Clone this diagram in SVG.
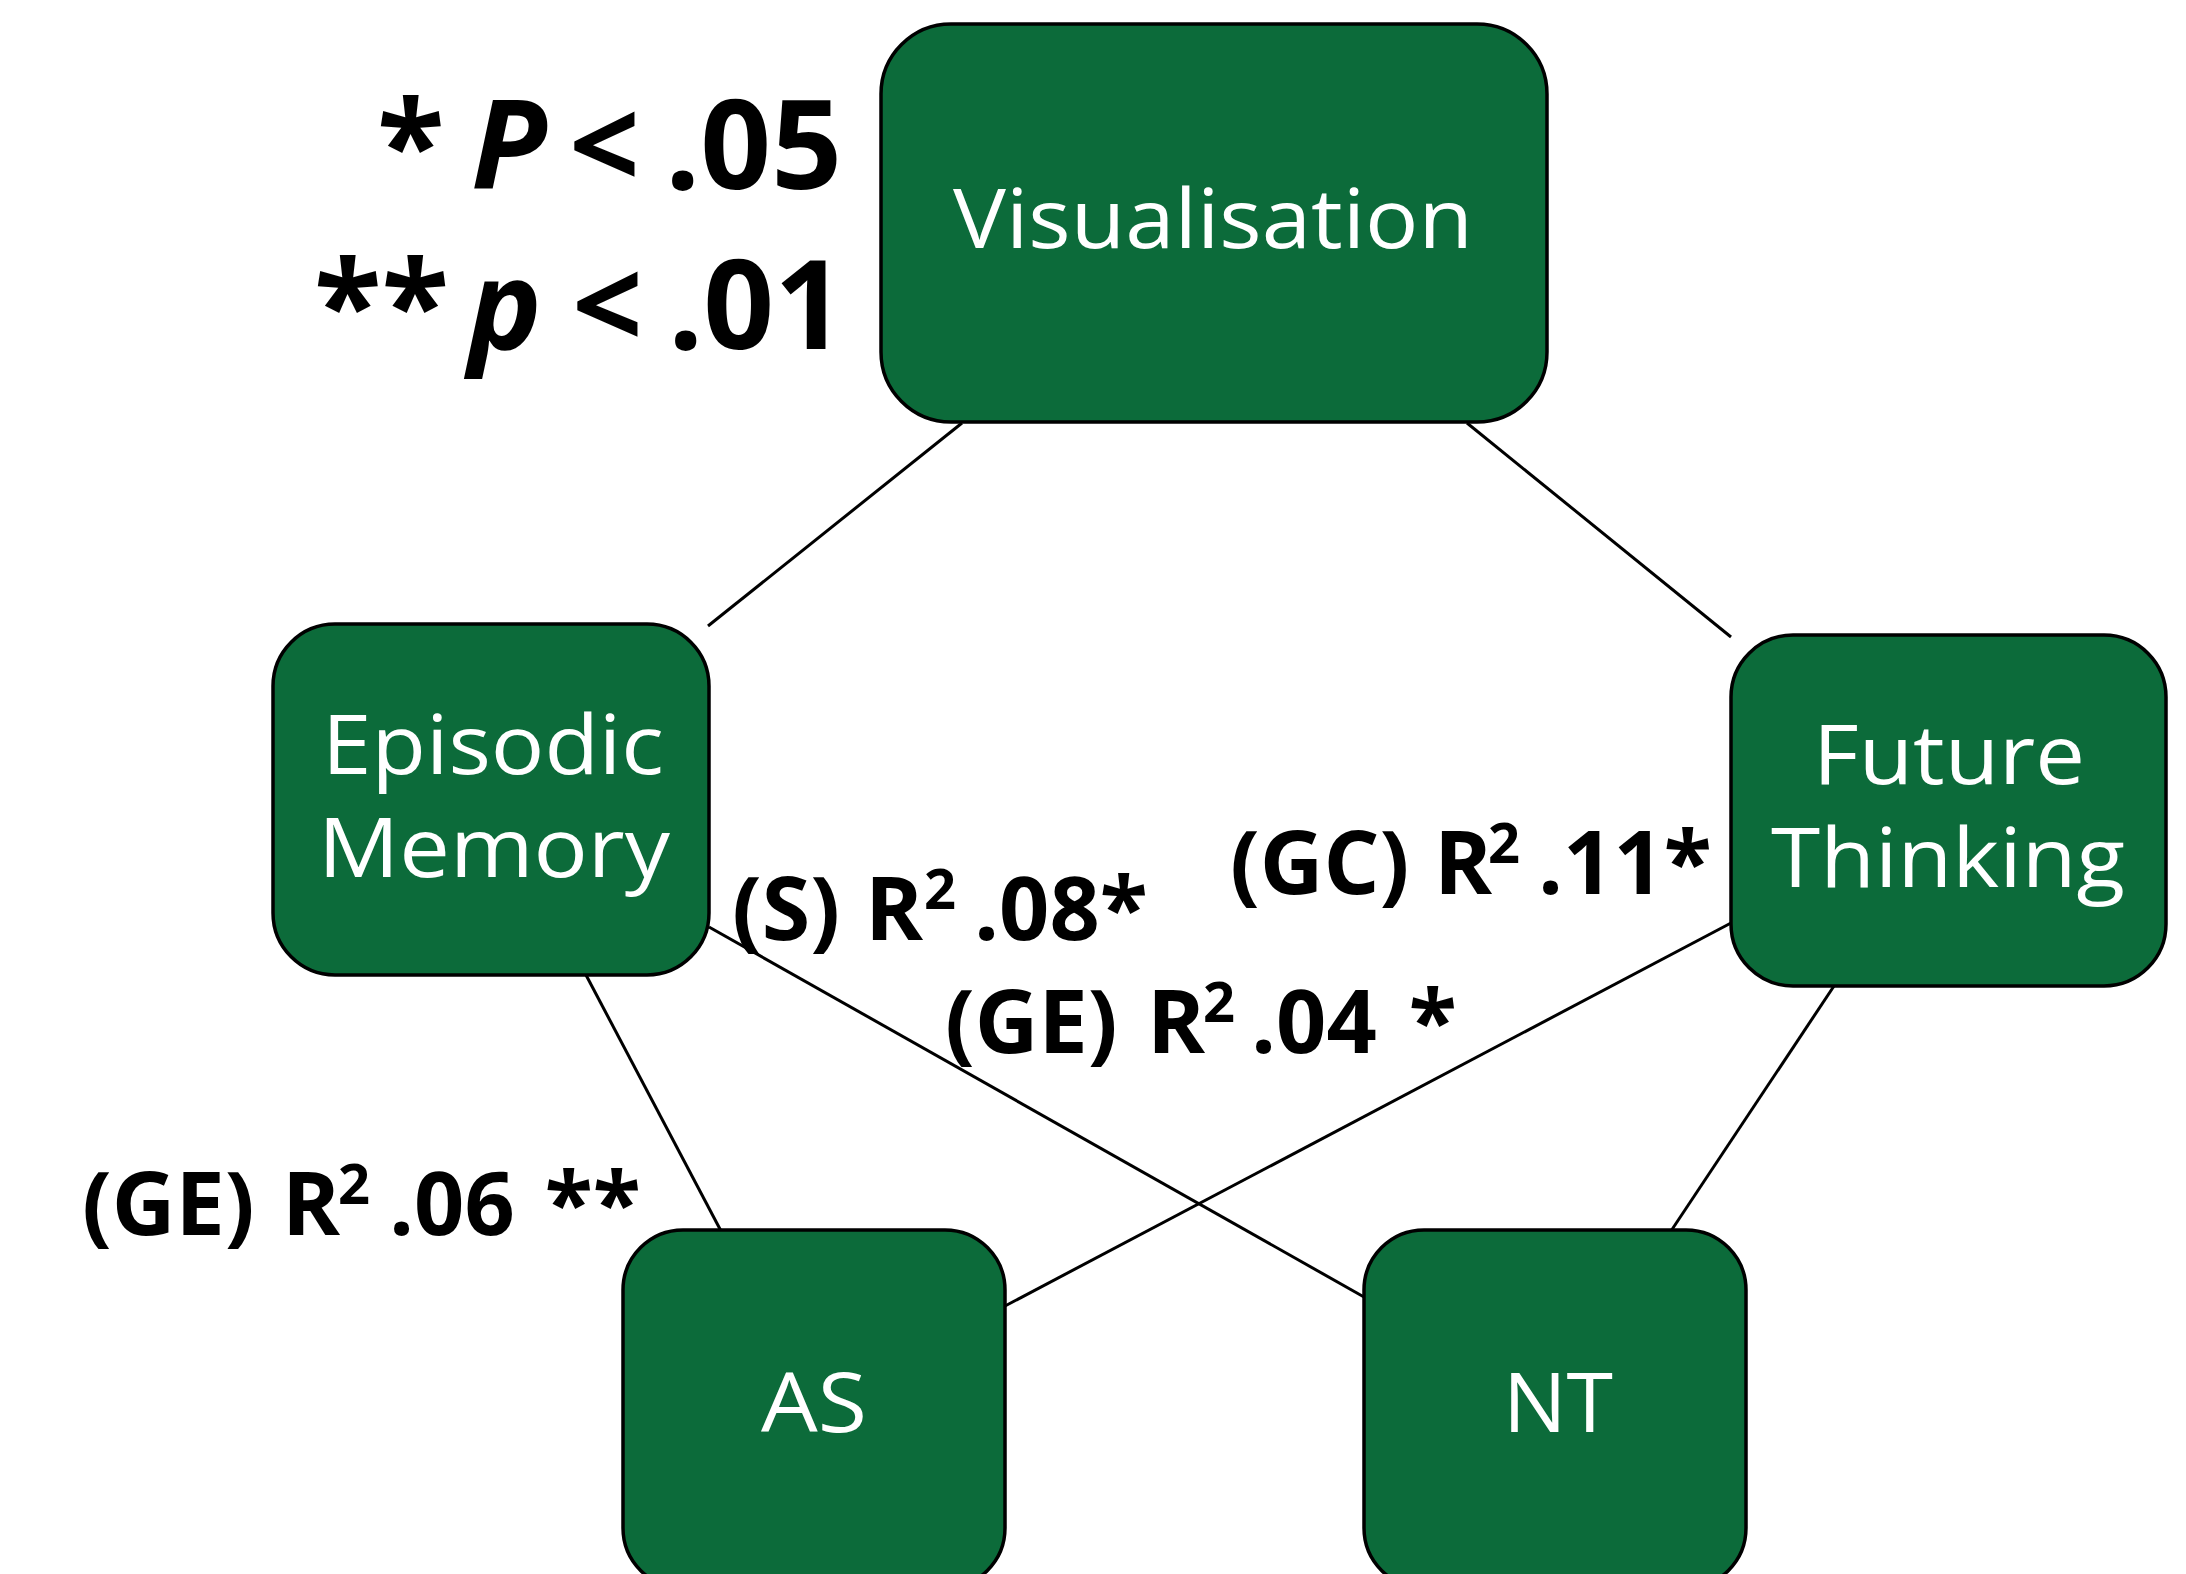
<svg xmlns="http://www.w3.org/2000/svg" width="2186" height="1574" viewBox="0 0 2186 1574">
  <style>
    .box { fill: #0c6b3a; stroke: #000; stroke-width: 3.5; }
    .name { font-family: "Open Sans", "Noto Sans", "Liberation Sans", sans-serif; font-size: 82px; fill: #fff; text-anchor: middle; }
    .edge { stroke: #000; stroke-width: 3; fill: none; }
    .lbl { font-family: "Open Sans", "Noto Sans", "Liberation Sans", sans-serif; font-weight: bold; font-size: 88px; fill: #000; }
    .sup { font-size: 56px; }
    .key { font-family: "Open Sans", "Noto Sans", "Liberation Sans", sans-serif; font-weight: bold; font-size: 124px; fill: #000; }
    .it { font-style: italic; }
  </style>
  <rect width="2186" height="1574" fill="#fff"/>

  <!-- connectors -->
  <g id="connectors">
    <line class="edge" x1="962" y1="423" x2="708" y2="626"/>
    <line class="edge" x1="1467" y1="423" x2="1731" y2="637"/>
    <line class="edge" x1="586" y1="975" x2="721" y2="1231"/>
    <line class="edge" x1="709" y1="927" x2="1364" y2="1297"/>
    <line class="edge" x1="1731" y1="923" x2="1005" y2="1306"/>
    <line class="edge" x1="1834" y1="986" x2="1671" y2="1231"/>
  </g>

  <!-- connector labels -->
  <g id="edge-labels">
    <text class="lbl" y="940"><tspan x="732">(S)</tspan><tspan x="865">R</tspan><tspan class="sup" x="924" y="909">2</tspan><tspan x="974" y="940">.08*</tspan></text>
    <text class="lbl" y="1053"><tspan x="945">(GE)</tspan><tspan x="1147">R</tspan><tspan class="sup" x="1203" y="1022">2</tspan><tspan x="1251" y="1053">.04</tspan><tspan x="1386"> *</tspan></text>
    <text class="lbl" y="894"><tspan x="1230">(GC)</tspan><tspan x="1434">R</tspan><tspan class="sup" x="1488" y="863">2</tspan><tspan x="1538" y="894">.11*</tspan></text>
    <text class="lbl" y="1235"><tspan x="82">(GE)</tspan><tspan x="282">R</tspan><tspan class="sup" x="338" y="1204">2</tspan><tspan x="389" y="1235">.06</tspan><tspan x="522"> **</tspan></text>
  </g>

  <!-- significance key -->
  <g id="key">
    <text class="key" y="189"><tspan x="377">*</tspan><tspan x="471" class="it">P</tspan><tspan x="569">&lt;</tspan><tspan x="665">.05</tspan></text>
    <text class="key" y="349"><tspan x="314">**</tspan><tspan x="468" class="it">p</tspan><tspan x="572">&lt;</tspan><tspan x="668">.01</tspan></text>
  </g>

  <!-- nodes -->
  <g id="node-visualisation">
    <rect class="box" x="881" y="24" width="666" height="398" rx="70" ry="70"/>
    <text class="name" x="1213" y="248" textLength="520" lengthAdjust="spacingAndGlyphs">Visualisation</text>
  </g>
  <g id="node-episodic-memory">
    <rect class="box" x="273" y="624" width="436" height="351" rx="62" ry="62"/>
    <text class="name" x="493" y="774" textLength="342" lengthAdjust="spacingAndGlyphs">Episodic</text>
    <text class="name" x="494" y="877" textLength="352" lengthAdjust="spacingAndGlyphs">Memory</text>
  </g>
  <g id="node-future-thinking">
    <rect class="box" x="1731" y="635" width="435" height="351" rx="62" ry="62"/>
    <text class="name" x="1949" y="784" textLength="272" lengthAdjust="spacingAndGlyphs">Future</text>
    <text class="name" x="1948" y="887" textLength="354" lengthAdjust="spacingAndGlyphs">Thinking</text>
  </g>
  <g id="node-as">
    <rect class="box" x="623" y="1230" width="382" height="358" rx="60" ry="60"/>
    <text class="name" x="814" y="1432" textLength="106" lengthAdjust="spacingAndGlyphs">AS</text>
  </g>
  <g id="node-nt">
    <rect class="box" x="1364" y="1230" width="382" height="358" rx="60" ry="60"/>
    <text class="name" x="1558" y="1432" textLength="110" lengthAdjust="spacingAndGlyphs">NT</text>
  </g>
</svg>
